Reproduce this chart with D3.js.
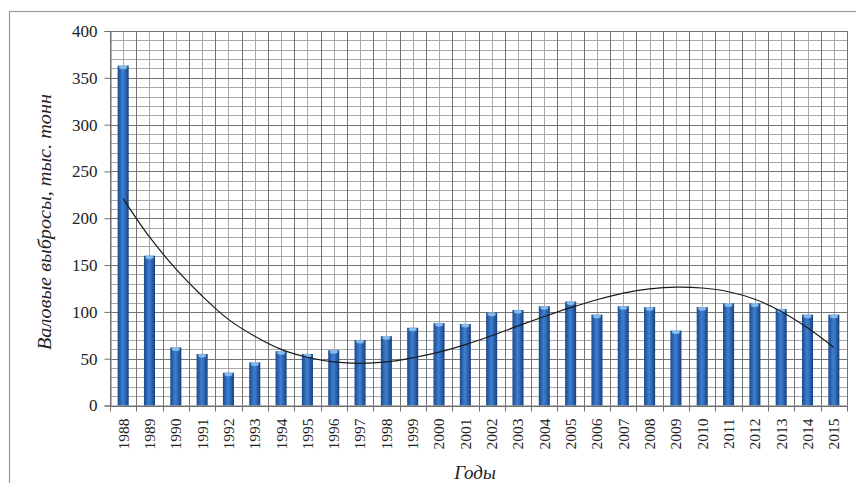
<!DOCTYPE html>
<html>
<head>
<meta charset="utf-8">
<script src="https://cdn.jsdelivr.net/npm/d3@7"></script>
<style>
  html, body { margin: 0; padding: 0; background: #fff; }
  svg { display: block; }
  .serif { font-family: "Liberation Serif", "DejaVu Serif", serif; }
</style>
</head>
<body>
<svg id="chart" width="856" height="483"></svg>
<script>
// ---- Data ----
const years = ["1988","1989","1990","1991","1992","1993","1994","1995","1996","1997","1998","1999","2000","2001","2002","2003","2004","2005","2006","2007","2008","2009","2010","2011","2012","2013","2014","2015"];
const emissions = [363,160,62,55,35,46,58,55,59,70,74,83,88,87,99,102,106,111,97,106,105,80,105,109,109,103,97,97];
const trendValues = [221,180,146,117,92,74,60,51.5,46.5,45,46.5,51,57,65,74.5,85,95,104.5,113,120,124.5,126.5,125.5,121.5,113.5,100.5,83,62];
const yTicks = [0,50,100,150,200,250,300,350,400];
const yMinorTicks = d3.range(0, 401, 10);
const yTitle = "Валовые выбросы, тыс. тонн";
const xTitle = "Годы";

// ---- Layout ----
const svg = d3.select("#chart");
const pLeft = 110, pRight = 847, pTop = 31, pBottom = 405.5;

const x = d3.scaleBand().domain(years).range([pLeft, pRight]).padding(0);
const y = d3.scaleLinear().domain([0, 400]).range([pBottom, pTop]);

// outer frame
svg.append("rect").attr("x", 9.5).attr("y", 11.5).attr("width", 900).attr("height", 500)
  .attr("fill", "#fff").attr("stroke", "#9a9a9a").attr("stroke-width", 1.2);

// defs: bar gradient
const defs = svg.append("defs");
const grad = defs.append("linearGradient").attr("id", "barGrad").attr("x1", "0%").attr("x2", "100%").attr("y1", "0%").attr("y2", "0%");
grad.append("stop").attr("offset", "0%").attr("stop-color", "#1b4a8c");
grad.append("stop").attr("offset", "45%").attr("stop-color", "#3d7fd0");
grad.append("stop").attr("offset", "60%").attr("stop-color", "#3572c2");
grad.append("stop").attr("offset", "100%").attr("stop-color", "#173f7a");

const g = svg.append("g");

// minor horizontal grid
g.append("g").selectAll("line").data(yMinorTicks.filter(v => v % 50 !== 0)).join("line")
  .attr("x1", pLeft).attr("x2", pRight)
  .attr("y1", d => Math.round(y(d)) + 0.5).attr("y2", d => Math.round(y(d)) + 0.5)
  .attr("stroke", "#a9a9a9").attr("stroke-width", 1);

// minor vertical grid (category centers)
g.append("g").selectAll("line").data(years).join("line")
  .attr("x1", d => Math.round(x(d) + x.bandwidth() / 2) + 0.5)
  .attr("x2", d => Math.round(x(d) + x.bandwidth() / 2) + 0.5)
  .attr("y1", pTop).attr("y2", pBottom)
  .attr("stroke", "#a9a9a9").attr("stroke-width", 1);

// major vertical grid (category boundaries)
const bounds = years.map(d => x(d)).concat([pRight]);
g.append("g").selectAll("line").data(bounds).join("line")
  .attr("x1", d => Math.round(d) + 0.5).attr("x2", d => Math.round(d) + 0.5)
  .attr("y1", pTop).attr("y2", pBottom)
  .attr("stroke", "#737373").attr("stroke-width", 1);

// major horizontal grid
g.append("g").selectAll("line").data(yTicks).join("line")
  .attr("x1", pLeft).attr("x2", pRight)
  .attr("y1", d => Math.round(y(d)) + 0.5).attr("y2", d => Math.round(y(d)) + 0.5)
  .attr("stroke", "#737373").attr("stroke-width", 1);

// bars
const bw = x.bandwidth() * 0.42;
const bars = g.append("g");
bars.selectAll("rect").data(years).join("rect")
  .attr("x", (d) => x(d) + x.bandwidth() / 2 - bw / 2)
  .attr("y", (d, i) => y(emissions[i]))
  .attr("width", bw)
  .attr("height", (d, i) => y(0) - y(emissions[i]))
  .attr("fill", "url(#barGrad)");
bars.selectAll("ellipse").data(years).join("ellipse")
  .attr("cx", d => x(d) + x.bandwidth() / 2)
  .attr("cy", (d, i) => y(emissions[i]) + 1.5)
  .attr("rx", bw / 2 - 1.5).attr("ry", 2)
  .attr("fill", "#8ec0ee").attr("opacity", 0.9);

// trend line
const line = d3.line()
  .x((d, i) => x(years[i]) + x.bandwidth() / 2)
  .y(d => y(d))
  .curve(d3.curveCatmullRom);
g.append("path").datum(trendValues)
  .attr("d", line).attr("fill", "none").attr("stroke", "#1a1a1a").attr("stroke-width", 1.2);

// axes
const yAxis = d3.axisLeft(y).tickValues(yTicks).tickSize(6).tickPadding(7);
const ya = svg.append("g").attr("transform", `translate(${pLeft + 0.5},0)`).call(yAxis);
ya.attr("font-family", null);
ya.select(".domain").attr("stroke", "#6e6e6e");
ya.selectAll(".tick line").attr("stroke", "#6e6e6e");
ya.selectAll(".tick text").attr("class", "serif")
  .attr("font-size", 17).attr("fill", "#222");

const xAxis = d3.axisBottom(x).tickSize(0).tickPadding(0);
const xa = svg.append("g").attr("transform", `translate(0,${pBottom})`).call(xAxis);
xa.attr("font-family", null);
xa.select(".domain").attr("stroke", "#6e6e6e");
xa.selectAll(".tick text")
  .attr("class", "serif")
  .attr("font-size", 15.5).attr("fill", "#222")
  .attr("text-anchor", "end")
  .attr("transform", "rotate(-90)")
  .attr("x", -13).attr("y", 0).attr("dy", "0.35em");
// boundary tick marks
svg.append("g").selectAll("line").data(bounds).join("line")
  .attr("x1", d => Math.round(d) + 0.5).attr("x2", d => Math.round(d) + 0.5)
  .attr("y1", pBottom).attr("y2", pBottom + 6)
  .attr("stroke", "#6e6e6e");

// titles
svg.append("text")
  .attr("class", "serif")
  .attr("transform", "translate(51,222) rotate(-90)")
  .attr("text-anchor", "middle")
  .attr("font-style", "italic").attr("font-size", 18).attr("fill", "#222")
  .attr("textLength", 256).attr("lengthAdjust", "spacingAndGlyphs")
  .text(yTitle);

svg.append("text")
  .attr("class", "serif")
  .attr("x", 475).attr("y", 479)
  .attr("text-anchor", "middle")
  .attr("font-style", "italic").attr("font-size", 19).attr("fill", "#222")
  .text(xTitle);
</script>
</body>
</html>
